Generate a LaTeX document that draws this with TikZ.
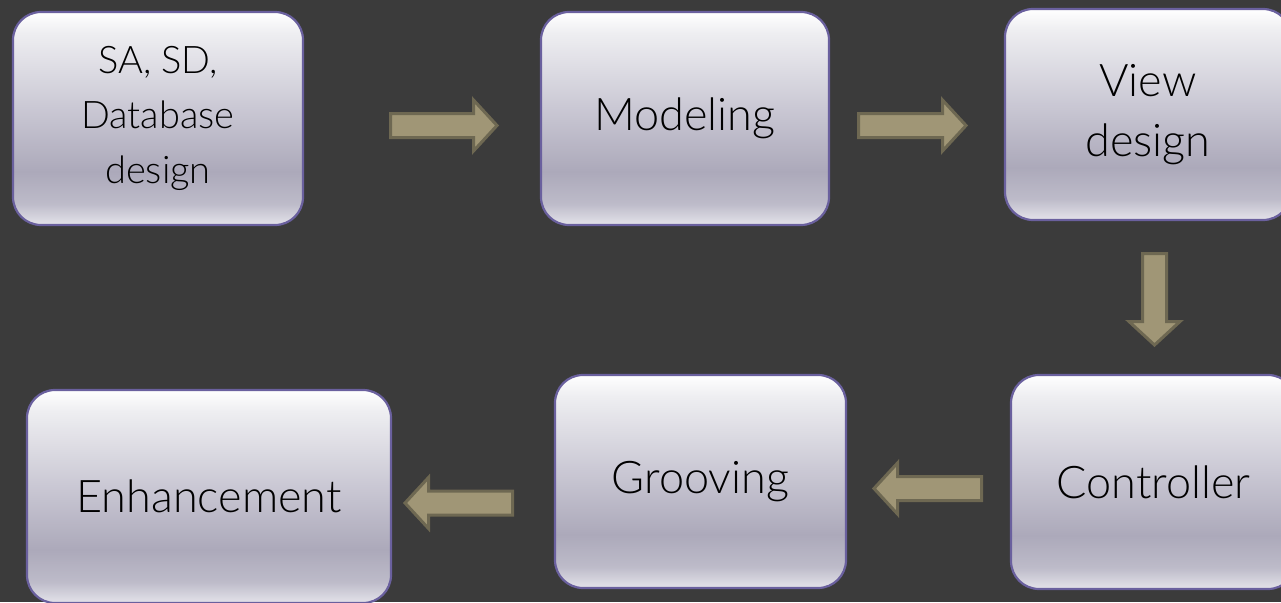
\documentclass[tikz,border=0pt]{standalone}
\usepackage{fontspec}
\setmainfont{Lato}[UprightFont=* Light]
\definecolor{bgc}{HTML}{3B3B3B}
\definecolor{arrowfill}{HTML}{A09676}
\definecolor{arrowline}{HTML}{6E6852}
\definecolor{boxline}{HTML}{6A609E}
\definecolor{bsa}{HTML}{FFFFFF}
\definecolor{bsb}{HTML}{EEEEF1}
\definecolor{bsc}{HTML}{CAC8D4}
\definecolor{bsd}{HTML}{ACA9BA}
\definecolor{bse}{HTML}{BDBBC9}
\definecolor{bsf}{HTML}{E4E3EA}
\pgfdeclareverticalshading{boxshade}{100bp}{color(0bp)=(bsf); color(25bp)=(bsf); color(30bp)=(bse); color(37.5bp)=(bsd); color(52.5bp)=(bsc); color(70bp)=(bsb); color(75bp)=(bsa); color(100bp)=(bsa)}
\tikzset{
  stagebox/.style={draw=boxline, line width=2.2pt, rounded corners=28pt, shade, shading=boxshade, shading angle=0, align=center, text=black, inner sep=0pt, font=\fontsize{45}{60}\selectfont},
  arrowbox/.style={fill=arrowfill, draw=arrowline, line width=3pt, line join=miter},
  pics/blockarrow/.style={code={\draw[arrowbox] (1.5,-12) -- (#1-25.5,-12) -- (#1-25.5,-25.5) -- (#1-2,0) -- (#1-25.5,25.5) -- (#1-25.5,12) -- (1.5,12) -- cycle;}}
}
\begin{document}
\begin{tikzpicture}[x=1pt,y=-1pt]
\fill[bgc] (0,0) rectangle (1281,602);
\useasboundingbox (0,0) rectangle (1281,602);
\clip (0,0) rectangle (1281,602);

\node[stagebox, minimum width=290pt, minimum height=213pt, font=\fontsize{38}{55}\selectfont] (sa) at (158,118.5) {SA, SD,\\Database\\design};
\node[stagebox, minimum width=288pt, minimum height=213pt] (mod) at (685,118.5) {Modeling};
\node[stagebox, minimum width=286pt, minimum height=211pt] (view) at (1148,114.5) {View\\design};
\node[stagebox, minimum width=285pt, minimum height=214pt] (ctrl) at (1153.5,482) {Controller};
\node[stagebox, minimum width=291pt, minimum height=213pt] (groove) at (700.5,481.5) {Grooving};
\node[stagebox, minimum width=364pt, minimum height=213pt] (enh) at (209,496.5) {Enhancement};

\coordinate (t1) at (389,125.5);
\coordinate (t2) at (857,125.5);
\coordinate (t3) at (1154.5,252);
\coordinate (t4) at (983,488.5);
\coordinate (t5) at (514,503);
\pic at (t1) {blockarrow=110};
\pic at (t2) {blockarrow=111};
\pic[rotate=-90] at (t3) {blockarrow=95};
\pic[rotate=180] at (t4) {blockarrow=111};
\pic[rotate=180] at (t5) {blockarrow=111};
\end{tikzpicture}
\end{document}
